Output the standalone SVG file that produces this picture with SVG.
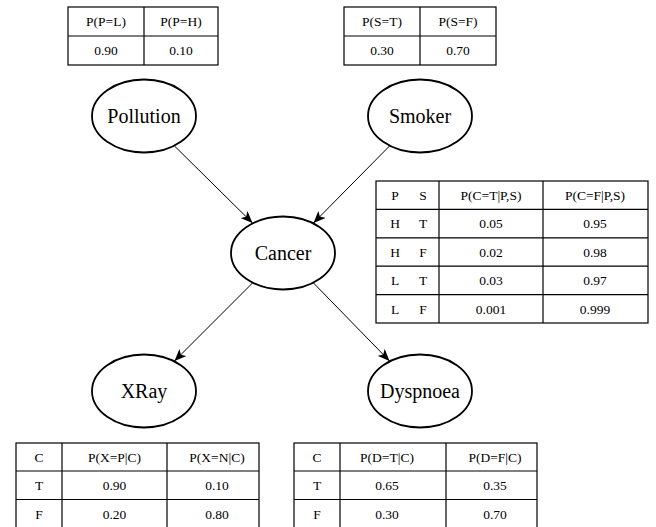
<svg xmlns="http://www.w3.org/2000/svg" width="656" height="527" viewBox="0 0 656 527">
<style>
.bg{fill:#fff}
.tb{fill:none;stroke:#000;stroke-width:1.2}
.ln{stroke:#000;stroke-width:1.2}
.nd{fill:#fff;stroke:#000;stroke-width:1.8}
.lb{font-family:'Liberation Serif','Times New Roman',serif;font-size:20px;text-anchor:middle;fill:#000}
.tx{font-family:'Liberation Serif','Times New Roman',serif;font-size:13.5px;text-anchor:middle;fill:#000}
.ed{stroke:#000;stroke-width:1;fill:none;marker-end:url(#ah)}
</style>
<defs>
<marker id="ah" viewBox="0 0 12 10" refX="12" refY="5" markerWidth="12" markerHeight="10" markerUnits="userSpaceOnUse" orient="auto">
<path d="M0,0 L12,5 L0,10 L3,5 z" fill="#000"/>
</marker>
</defs>
<rect class="bg" width="656" height="527"/>

<g id="connectors">
<line class="ed" x1="174.5" y1="146" x2="252.5" y2="223"/>
<line class="ed" x1="389.5" y1="146" x2="313.5" y2="223"/>
<line class="ed" x1="252.5" y1="283" x2="174.5" y2="361"/>
<line class="ed" x1="313.5" y1="283" x2="389.5" y2="361"/>
</g>

<g id="pollution">
<ellipse class="nd" cx="144" cy="116" rx="52" ry="36.5"/>
<text class="lb" x="144" y="123">Pollution</text>
</g>
<g id="smoker">
<ellipse class="nd" cx="420" cy="116" rx="52" ry="36.5"/>
<text class="lb" x="420" y="123">Smoker</text>
</g>
<g id="cancer">
<ellipse class="nd" cx="283" cy="253" rx="52" ry="36.5"/>
<text class="lb" x="283" y="260">Cancer</text>
</g>
<g id="xray">
<ellipse class="nd" cx="144" cy="391" rx="52" ry="36.5"/>
<text class="lb" x="144" y="398">XRay</text>
</g>
<g id="dyspnoea">
<ellipse class="nd" cx="420" cy="391" rx="52" ry="36.5"/>
<text class="lb" x="420" y="398">Dyspnoea</text>
</g>

<g id="table-pollution">
<rect class="tb" x="68" y="7" width="150" height="58"/>
<line class="ln" x1="144" y1="7" x2="144" y2="65"/>
<line class="ln" x1="68" y1="36" x2="218" y2="36"/>
<text class="tx" x="106" y="26">P(P=L)</text>
<text class="tx" x="181" y="26">P(P=H)</text>
<text class="tx" x="106" y="55">0.90</text>
<text class="tx" x="181" y="55">0.10</text>
</g>

<g id="table-smoker">
<rect class="tb" x="344" y="7" width="152" height="58"/>
<line class="ln" x1="420" y1="7" x2="420" y2="65"/>
<line class="ln" x1="344" y1="36" x2="496" y2="36"/>
<text class="tx" x="382" y="26">P(S=T)</text>
<text class="tx" x="458" y="26">P(S=F)</text>
<text class="tx" x="382" y="55">0.30</text>
<text class="tx" x="458" y="55">0.70</text>
</g>

<g id="table-cancer">
<rect class="tb" x="376" y="181" width="272" height="142"/>
<line class="ln" x1="439" y1="181" x2="439" y2="323"/>
<line class="ln" x1="543" y1="181" x2="543" y2="323"/>
<line class="ln" x1="376" y1="209.4" x2="648" y2="209.4"/>
<line class="ln" x1="376" y1="237.8" x2="648" y2="237.8"/>
<line class="ln" x1="376" y1="266.2" x2="648" y2="266.2"/>
<line class="ln" x1="376" y1="294.6" x2="648" y2="294.6"/>
<text class="tx" x="395" y="200">P</text>
<text class="tx" x="423" y="200">S</text>
<text class="tx" x="491" y="200">P(C=T|P,S)</text>
<text class="tx" x="595" y="200">P(C=F|P,S)</text>
<text class="tx" x="395" y="228.4">H</text>
<text class="tx" x="423" y="228.4">T</text>
<text class="tx" x="491" y="228.4">0.05</text>
<text class="tx" x="595" y="228.4">0.95</text>
<text class="tx" x="395" y="256.8">H</text>
<text class="tx" x="423" y="256.8">F</text>
<text class="tx" x="491" y="256.8">0.02</text>
<text class="tx" x="595" y="256.8">0.98</text>
<text class="tx" x="395" y="285.2">L</text>
<text class="tx" x="423" y="285.2">T</text>
<text class="tx" x="491" y="285.2">0.03</text>
<text class="tx" x="595" y="285.2">0.97</text>
<text class="tx" x="395" y="313.6">L</text>
<text class="tx" x="423" y="313.6">F</text>
<text class="tx" x="491" y="313.6">0.001</text>
<text class="tx" x="595" y="313.6">0.999</text>
</g>

<g id="table-xray">
<rect class="tb" x="16" y="443" width="243" height="86"/>
<line class="ln" x1="62" y1="443" x2="62" y2="529"/>
<line class="ln" x1="167" y1="443" x2="167" y2="529"/>
<line class="ln" x1="16" y1="471" x2="259" y2="471"/>
<line class="ln" x1="16" y1="499.5" x2="259" y2="499.5"/>
<text class="tx" x="39" y="462">C</text>
<text class="tx" x="114.5" y="462">P(X=P|C)</text>
<text class="tx" x="217" y="462">P(X=N|C)</text>
<text class="tx" x="39" y="490">T</text>
<text class="tx" x="114.5" y="490">0.90</text>
<text class="tx" x="217" y="490">0.10</text>
<text class="tx" x="39" y="519">F</text>
<text class="tx" x="114.5" y="519">0.20</text>
<text class="tx" x="217" y="519">0.80</text>
</g>

<g id="table-dyspnoea">
<rect class="tb" x="294" y="443" width="243" height="86"/>
<line class="ln" x1="340" y1="443" x2="340" y2="529"/>
<line class="ln" x1="446" y1="443" x2="446" y2="529"/>
<line class="ln" x1="294" y1="471" x2="537" y2="471"/>
<line class="ln" x1="294" y1="499.5" x2="537" y2="499.5"/>
<text class="tx" x="317" y="462">C</text>
<text class="tx" x="387" y="462">P(D=T|C)</text>
<text class="tx" x="495" y="462">P(D=F|C)</text>
<text class="tx" x="317" y="490">T</text>
<text class="tx" x="387" y="490">0.65</text>
<text class="tx" x="495" y="490">0.35</text>
<text class="tx" x="317" y="519">F</text>
<text class="tx" x="387" y="519">0.30</text>
<text class="tx" x="495" y="519">0.70</text>
</g>
</svg>
